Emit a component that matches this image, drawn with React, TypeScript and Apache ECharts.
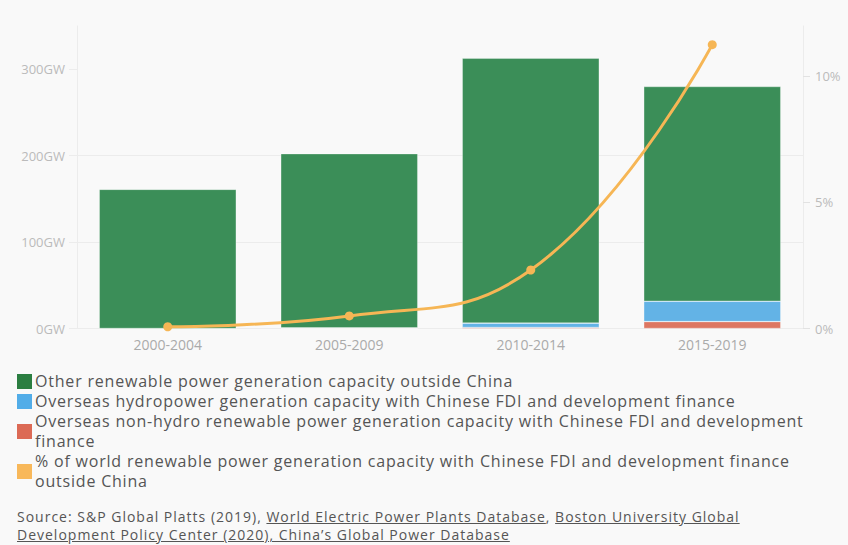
import React, { useEffect, useRef } from "react";
import * as echarts from "echarts";

// Periods on the x axis
const periods = ["2000-2004", "2005-2009", "2010-2014", "2015-2019"];

// Capacity in GW, stacked per period
const otherRenewableGW = [161, 201.5, 306.5, 248.5];
const hydroChineseGW = [0, 0.5, 5, 23.5];
const nonHydroChineseGW = [0, 0.3, 1.2, 8];

// Share of world renewable capacity with Chinese FDI / development finance (%)
const chineseSharePct = [0.07, 0.5, 2.32, 11.26];

// Axis ticks
const gwTicks = [0, 100, 200, 300];
const pctTicks = [0, 5, 10];

const seriesNames = [
  "Other renewable power generation capacity outside China",
  "Overseas hydropower generation capacity with Chinese FDI and development finance",
  "Overseas non-hydro renewable power generation capacity with Chinese FDI and development finance",
  "% of world renewable power generation capacity with Chinese FDI and development finance outside China",
];
// Legend label lines (pre-wrapped)
const legendLines = [
  ["Other renewable power generation capacity outside China"],
  ["Overseas hydropower generation capacity with Chinese FDI and development finance"],
  ["Overseas non-hydro renewable power generation capacity with Chinese FDI and development", "finance"],
  ["% of world renewable power generation capacity with Chinese FDI and development finance", "outside China"],
];
const barColors = ["#3b8e58", "#63b3e6", "#dd7762"];
const legendColors = ["#2b7e41", "#52ade8", "#dc6a55", "#f8b85a"];
const lineColor = "#f6b655";

const FONT = "'Open Sans', 'Noto Sans', sans-serif";
const GRID = "#ececec";

export default function App() {
  const ref = useRef<HTMLDivElement>(null);

  useEffect(() => {
    if (!ref.current) return;
    const chart = echarts.init(ref.current, undefined, { renderer: "svg" });
    const barStyle = (c: string) => ({
      color: c,
      borderColor: "rgba(255,255,255,0.5)",
      borderWidth: 0.6,
    });
    chart.setOption({
      animation: false,
      backgroundColor: "transparent",
      textStyle: { fontFamily: FONT },
      grid: { left: 77, right: 45, top: 26, bottom: 216.5, containLabel: false },
      xAxis: {
        type: "category",
        data: periods,
        axisLine: { lineStyle: { color: GRID, width: 1 } },
        axisTick: { alignWithLabel: true, length: 6, lineStyle: { color: "#e2e2e2" } },
        axisLabel: { color: "#aaaaaa", fontSize: 14, margin: 9, fontFamily: FONT },
      },
      yAxis: [
        {
          type: "value",
          min: 0,
          max: 350,
          interval: 100,
          axisLine: { show: true, lineStyle: { color: GRID } },
          axisTick: { show: true, length: 8, lineStyle: { color: GRID }, customValues: gwTicks },
          axisLabel: {
            color: "#bbbbbb",
            fontSize: 13,
            margin: 12,
            fontFamily: FONT,
            formatter: "{value}GW",
            customValues: gwTicks,
          },
          splitLine: { show: true, showMaxLine: false, lineStyle: { color: GRID } },
        },
        {
          type: "value",
          min: 0,
          max: 12,
          interval: 5,
          position: "right",
          axisLine: { show: true, lineStyle: { color: GRID } },
          axisTick: { show: true, length: 7, lineStyle: { color: "#e2e2e2" }, customValues: pctTicks },
          axisLabel: {
            color: "#bbbbbb",
            fontSize: 13,
            margin: 12,
            fontFamily: FONT,
            formatter: "{value}%",
            customValues: pctTicks,
          },
          splitLine: { show: false },
        },
      ],
      series: [
        {
          name: seriesNames[2],
          type: "bar",
          stack: "gw",
          data: nonHydroChineseGW,
          barCategoryGap: "24.5%",
          itemStyle: barStyle(barColors[2]),
        },
        {
          name: seriesNames[1],
          type: "bar",
          stack: "gw",
          data: hydroChineseGW,
          barCategoryGap: "24.5%",
          itemStyle: barStyle(barColors[1]),
        },
        {
          name: seriesNames[0],
          type: "bar",
          stack: "gw",
          data: otherRenewableGW,
          barCategoryGap: "24.5%",
          itemStyle: barStyle(barColors[0]),
        },
        {
          name: seriesNames[3],
          type: "line",
          yAxisIndex: 1,
          data: chineseSharePct,
          smooth: 0.45,
          symbol: "circle",
          symbolSize: 9,
          lineStyle: { color: lineColor, width: 3 },
          itemStyle: { color: lineColor },
          z: 5,
        },
      ],
    });
    return () => chart.dispose();
  }, []);

  return (
    <div
      style={{
        position: "absolute",
        left: 0,
        top: 0,
        width: 848,
        height: 545,
        background: "#f9f9f9",
        fontFamily: FONT,
        overflow: "hidden",
      }}
    >
      <div ref={ref} style={{ position: "absolute", left: 0, top: 0, width: 848, height: 545 }} />
      <div style={{ position: "absolute", left: 17, top: 371 }}>
        {legendLines.map((lines, i) => (
          <div key={i} style={{ display: "flex", alignItems: "center" }}>
            <div
              style={{ width: 15, height: 15, background: legendColors[i], marginRight: 3, flex: "none" }}
            />
            <div
              style={{
                fontSize: 16,
                lineHeight: "20px",
                letterSpacing: "0.8px",
                color: "#555555",
                whiteSpace: "nowrap",
              }}
            >
              {lines.map((l, j) => (
                <div key={j}>{l}</div>
              ))}
            </div>
          </div>
        ))}
      </div>
      <div
        style={{
          position: "absolute",
          left: 17,
          top: 508,
          fontSize: 14,
          lineHeight: "18px",
          letterSpacing: "1px",
          color: "#555555",
          whiteSpace: "nowrap",
        }}
      >
        <div>
          Source: S&amp;P Global Platts (2019), <u>World Electric Power Plants Database</u>,{" "}
          <u>Boston University Global</u>
        </div>
        <div>
          <u>Development Policy Center (2020), China’s Global Power Database</u>
        </div>
      </div>
    </div>
  );
}
